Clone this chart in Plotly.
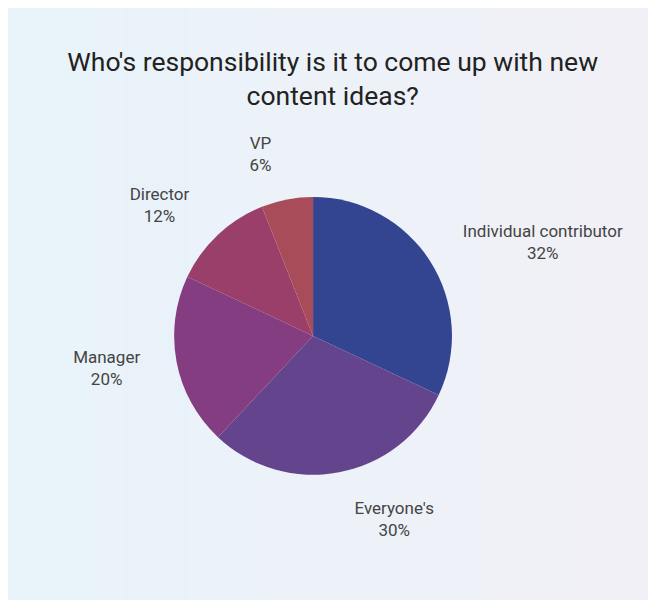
import plotly.graph_objects as go

# Survey answers, clockwise from 12 o'clock
roles = ["Individual contributor", "Everyone's", "Manager", "Director", "VP"]
shares = [32, 30, 20, 12, 6]
slice_colors = ["#334491", "#63448d", "#833d80", "#9a3f6a", "#a94c5a"]

title_text = "Who's responsibility is it to come up with new<br>content ideas?"

# background goes from light blue (left) to light lavender (right)
bg_left = (232, 243, 250)
bg_right = (241, 240, 246)
n_strips = 40

fig = go.Figure()

# invisible, slightly larger pie only used to push the outside labels further out
fig.add_trace(
    go.Pie(
        labels=roles,
        values=shares,
        sort=False,
        direction="clockwise",
        rotation=0,
        marker=dict(colors=["rgba(0,0,0,0)"] * len(roles), line=dict(width=0)),
        texttemplate="%{label}<br>%{percent:.0%}",
        textposition="outside",
        textfont=dict(family="Roboto", size=17, color="#444444"),
        showlegend=False,
        hoverinfo="skip",
        domain=dict(x=[0.2134, 0.7165], y=[0.178, 0.728]),
    )
)

# the visible pie
fig.add_trace(
    go.Pie(
        labels=roles,
        values=shares,
        sort=False,
        direction="clockwise",
        rotation=0,
        marker=dict(colors=slice_colors, line=dict(width=0)),
        textinfo="none",
        showlegend=False,
        hoverinfo="label+percent",
        domain=dict(x=[0.253, 0.677], y=[0.222, 0.685]),
    )
)

shapes = []
for i in range(n_strips):
    t = i / (n_strips - 1)
    r, g, b = [round(a + (c - a) * t) for a, c in zip(bg_left, bg_right)]
    shapes.append(dict(
        type="rect", xref="paper", yref="paper",
        x0=i / n_strips, x1=(i + 1) / n_strips + 0.002, y0=0, y1=1,
        fillcolor=f"rgb({r},{g},{b})", line=dict(width=0), layer="below",
    ))

fig.update_layout(
    width=656,
    height=600,
    margin=dict(l=0, r=0, t=0, b=0),
    paper_bgcolor="#edf2f8",
    plot_bgcolor="#edf2f8",
    font=dict(family="Roboto", color="#222222"),
    shapes=shapes,
    title=dict(
        text=title_text,
        x=0.495,
        xanchor="center",
        y=0.895,
        yanchor="top",
        font=dict(family="Roboto", size=26.5, color="#222222"),
    ),
)

fig.write_html("out.html")
